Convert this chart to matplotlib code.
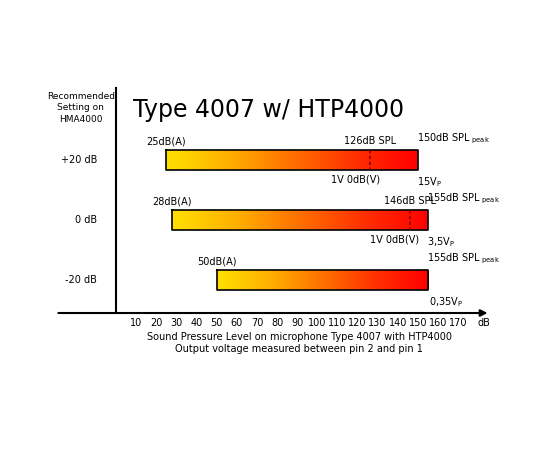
import matplotlib
matplotlib.use("Agg")
import matplotlib.pyplot as plt
import numpy as np
from matplotlib.colors import LinearSegmentedColormap

settings = ["+20 dB", "0 dB", "-20 dB"]
starts = [25, 28, 50]
ends = [150, 155, 155]
start_labels = ["25dB(A)", "28dB(A)", "50dB(A)"]
spl_marks = [126, 146, None]
spl_labels = ["126dB SPL", "146dB SPL", None]
peak_labels = ["150dB SPL", "155dB SPL", "155dB SPL"]
volt_labels = ["15V", "3,5V", "0,35V"]
ticks = list(range(10, 180, 10))

fig = plt.figure(figsize=(5.5, 4.5), dpi=100)
ax = fig.add_axes([0, 0, 1, 1])
px = 2.0125
ax.set_xlim(-116 / px, (550 - 116) / px)
ax.set_ylim(450, 0)
ax.axis("off")

cmap = LinearSegmentedColormap.from_list("g", ["#ffe000", "#ffb000", "#ff7000", "#ff3000", "#ff0000"])
grad = np.linspace(0, 1, 256).reshape(1, -1)
ys = [160, 220, 280]
h = 10
peak_x = [149.5, 154.5, 154.5]
volt_x = [149.5, 154.5, 155.5]
onev_x = [119, 150.5]
onev_ha = ["center", "right"]
for i, y in enumerate(ys):
    s, e = starts[i], ends[i]
    ax.imshow(grad, cmap=cmap, aspect="auto", extent=(s, e, y + h, y - h), zorder=1)
    ax.plot([s, e, e, s, s], [y - h, y - h, y + h, y + h, y - h], color="black", lw=1.2, zorder=2)
    ax.text(s, y - h - 4, start_labels[i], fontsize=7, ha="center", va="bottom")
    ax.text(peak_x[i], y - h - 4, peak_labels[i] + r"$_\mathregular{\ peak}$", fontsize=7, ha="left", va="bottom")
    ax.text(volt_x[i], y + h + 5, volt_labels[i] + r"$_\mathregular{P}$", fontsize=7, ha="left", va="top")
    if spl_marks[i] is not None:
        m = spl_marks[i]
        ax.plot([m, m], [y - h, y + h], color="#800000", lw=1.2, ls=(0, (2, 1.5)), zorder=3)
        ax.text(m, y - h - 4, spl_labels[i], fontsize=7, ha="center", va="bottom")
        ax.text(onev_x[i], y + h + 5, "1V 0dB(V)", fontsize=7, ha=onev_ha[i], va="top")
    ax.text(-9.5, y, settings[i], fontsize=7, ha="right", va="center")

ax.plot([0, 0], [88, 313], color="black", lw=1.5)
ax.annotate("", xy=(186, 313), xytext=(-30, 313),
            arrowprops=dict(arrowstyle="-|>", color="black", lw=1.5, mutation_scale=10))
for t in ticks:
    ax.text(t, 323, str(t), fontsize=7, ha="center", va="center")
ax.text(183, 323, "dB", fontsize=7, ha="center", va="center")
ax.text(91, 337, "Sound Pressure Level on microphone Type 4007 with HTP4000", fontsize=7, ha="center", va="center")
ax.text(91, 349, "Output voltage measured between pin 2 and pin 1", fontsize=7, ha="center", va="center")

ax.text(-17.5, 108, "Recommended\nSetting on\nHMA4000", fontsize=6.5, ha="center", va="center", linespacing=1.4)
ax.text(8.5, 110, "Type 4007 w/ HTP4000", fontsize=17, ha="left", va="center")

fig.savefig("out.png", dpi=100)
